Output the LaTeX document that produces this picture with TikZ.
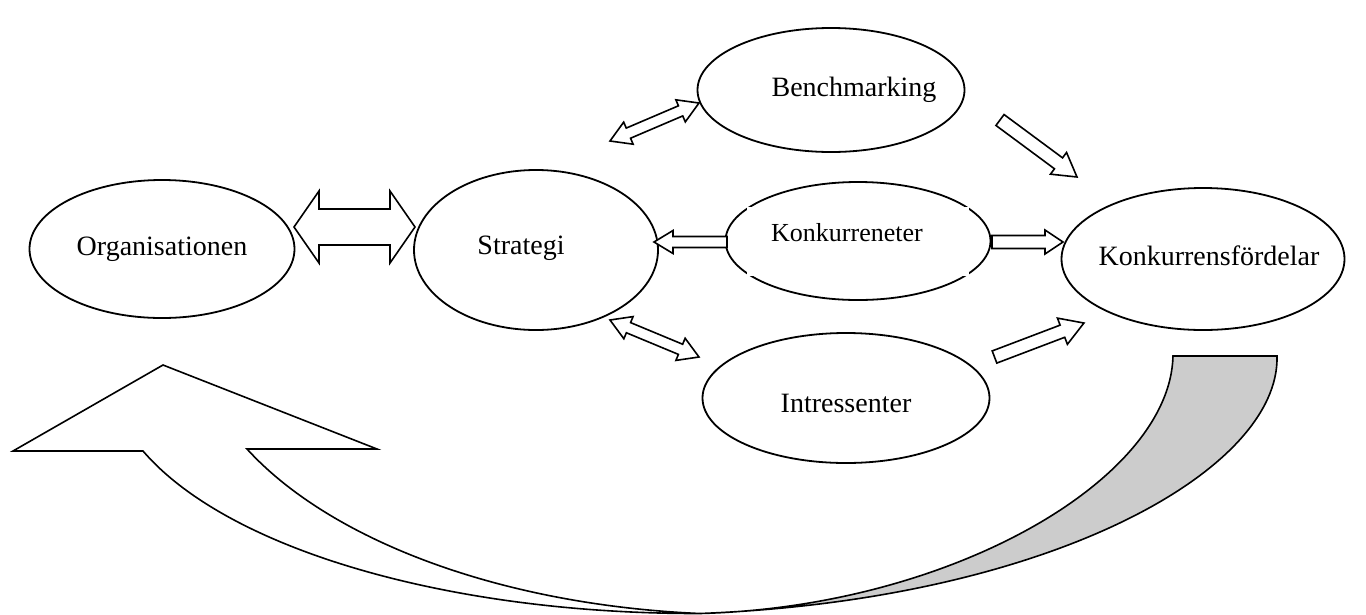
\documentclass[tikz,border=0pt]{standalone}
\usepackage{fontspec}
\setmainfont{Liberation Serif}
\usetikzlibrary{shapes.geometric}

% Block arrows: (start) to (end), head length, head half-width, shaft half-width
\newcommand\arrowframe[2]{%
  \path (#1); \pgfgetlastxy{\ax}{\ay}%
  \path (#2); \pgfgetlastxy{\bx}{\by}%
  \pgfmathsetmacro\ang{atan2(\by-\ay,\bx-\ax)}%
  \pgfmathsetmacro\len{veclen(\bx-\ax,\by-\ay)}%
}
\newcommand\singleblock[5]{%
  \arrowframe{#1}{#2}%
  \begin{scope}[shift={(\ax,\ay)}, rotate=\ang]
    \draw[blockarrow] (0,#5) -- (\len-#3,#5) -- (\len-#3,#4) -- (\len,0)
      -- (\len-#3,-#4) -- (\len-#3,-#5) -- (0,-#5) -- cycle;
  \end{scope}}
\newcommand\doubleblock[5]{%
  \arrowframe{#1}{#2}%
  \begin{scope}[shift={(\ax,\ay)}, rotate=\ang]
    \draw[blockarrow] (0,0) -- (#3,#4) -- (#3,#5) -- (\len-#3,#5) -- (\len-#3,#4)
      -- (\len,0) -- (\len-#3,-#4) -- (\len-#3,-#5) -- (#3,-#5) -- (#3,-#4) -- cycle;
  \end{scope}}

\begin{document}
\begin{tikzpicture}[x=1pt, y=-1pt,
  oval/.style={ellipse, draw=black, line width=1.8pt, fill=white, inner sep=0pt,
               label distance=0pt},
  oval text/.style={font=\fontsize{28}{32}\selectfont},
  box text/.style={font=\fontsize{26}{30}\selectfont},
  blockarrow/.style={draw=black, line width=1.6pt, fill=white, line join=miter},
  ribbon/.style={draw=black, line width=1.6pt, line join=miter}]
\useasboundingbox (0,0) rectangle (1366,614);

% returning arrow: white front band with head, grey back band
\draw[ribbon, fill=white] (143,451) -- (13,451) -- (163,365) -- (377,449) -- (247,449)
  .. controls (330,540) and (500,605) .. (700,613.5)
  .. controls (450,614) and (228,550) .. (143,451) -- cycle;
\draw[ribbon, fill=gray!40] (700,613.5) .. controls (950,607) and (1170,480) .. (1173,356)
  -- (1277,356) .. controls (1280,470) and (1050,600) .. (700,613.5) -- cycle;

% the five stations
\node[oval, minimum width=265pt, minimum height=138pt,
      label={[oval text]center:Organisationen}] (org) at (162,249) {};
\node[oval, minimum width=244pt, minimum height=160pt,
      label={[oval text, xshift=-15pt, yshift=2pt]center:Strategi}] (strat) at (536,250) {};
\node[oval, minimum width=267pt, minimum height=124pt,
      label={[oval text, xshift=23pt]center:Benchmarking}] (bench) at (831,90) {};
\node[oval, minimum width=265pt, minimum height=118pt] (konk) at (858,241) {};
% white text frame trims the outline at its corners
\fill[white] (747,207) rectangle (969,276);
\node[box text] (konkT) at (847,233) {Konkurreneter};
\node[oval, minimum width=283pt, minimum height=142pt,
      label={[oval text, xshift=6pt, yshift=3pt]center:Konkurrensfördelar}] (kf) at (1203,259) {};
\node[oval, minimum width=287pt, minimum height=130pt,
      label={[oval text, yshift=-5pt]center:Intressenter}] (intr) at (846,398) {};

% arrow end points on the outlines
\coordinate (orgR) at (294,227);
\coordinate (stratL) at (415,227);
\coordinate (stratNE) at (610,141);
\coordinate (benchSW) at (699,103);
\coordinate (stratE) at (654,242);
\coordinate (konkW) at (727,242);
\coordinate (benchSE) at (1000,120);
\coordinate (kfNW) at (1077,177);
\coordinate (konkE) at (992,242);
\coordinate (kfW) at (1063,242);
\coordinate (stratSE) at (610,320);
\coordinate (intrNW) at (699,357);
\coordinate (intrNE) at (994.5,357);
\coordinate (kfSW) at (1084,323);

\doubleblock{orgR}{stratL}{25}{36}{18}
\doubleblock{stratNE}{benchSW}{20}{12}{5.5}
\singleblock{konkW}{stratE}{19}{11.5}{5.5}
\singleblock{benchSE}{kfNW}{23}{13.5}{6.8}
\singleblock{konkE}{kfW}{18}{12}{6.5}
\doubleblock{stratSE}{intrNW}{20}{12}{5.5}
\singleblock{intrNE}{kfSW}{23}{14}{6.5}
\end{tikzpicture}
\end{document}
